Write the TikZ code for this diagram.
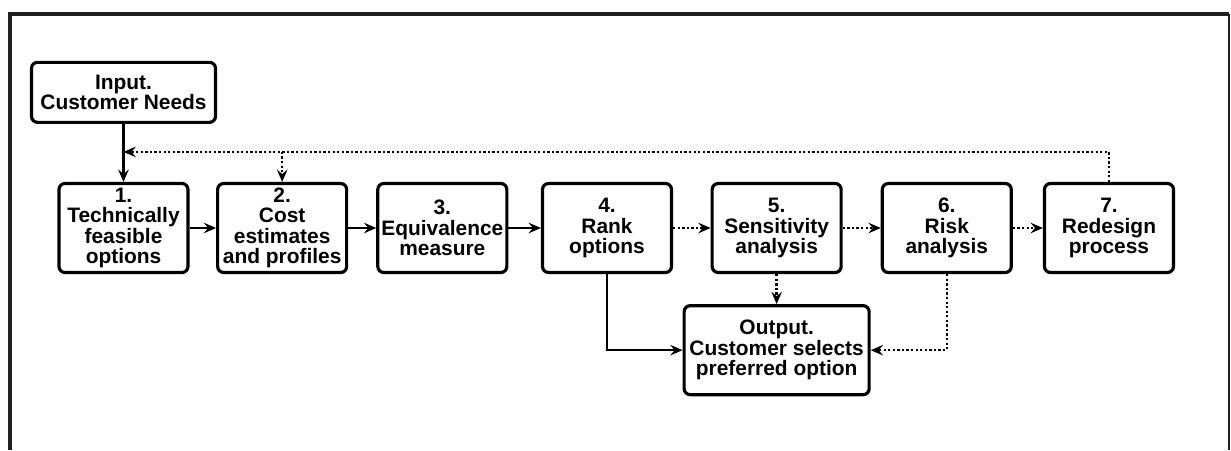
\documentclass[tikz,border=0pt]{standalone}
\usepackage{fontspec}
\setmainfont{Liberation Sans}
\usepackage{tikz}
\usetikzlibrary{arrows.meta,positioning,calc}
\definecolor{frameGray}{HTML}{231F20}

\begin{document}
\begin{tikzpicture}[
  block/.style={rounded corners=1.2mm,draw=black,line width=1.8pt,
    minimum height=1.78cm,minimum width=2.58cm,align=center,inner sep=1pt,
    font=\fontsize{11.9}{11.6}\selectfont\bfseries},
  wideblock/.style={block,minimum width=3.7cm},
  arrow/.style={-{Stealth[length=7pt,width=6pt,inset=2.5pt]},line width=1.4pt},
  dotarrow/.style={arrow,dash pattern=on 1.3pt off 1.3pt}
]
\useasboundingbox (0,0) rectangle (24.62,-9);
% frame, open at the bottom
\draw[frameGray,line width=2.3pt] (0.2,-9) -- (0.2,-0.28) -- (24.58,-0.28);
\draw[frameGray,line width=1.4pt] (24.58,-0.28) -- (24.58,-9);

\node[block] (b1) at (2.47,-4.56) {1.\\Technically\\feasible\\options};
\node[block,right=0.53cm of b1] (b2) {2.\\Cost\\estimates\\and profiles};
\node[block,right=0.56cm of b2] (b3) {3.\\Equivalence\\measure};
\node[block,right=0.65cm of b3] (b4) {4.\\Rank\\options};
\node[block,right=0.75cm of b4] (b5) {5.\\Sensitivity\\analysis};
\node[block,right=0.76cm of b5] (b6) {6.\\Risk\\analysis};
\node[block,right=0.6cm of b6] (b7) {7.\\Redesign\\process};
\node[block,minimum height=1.2cm,minimum width=3.68cm,above=1.16cm of b1] (input) {Input.\\Customer Needs};
\node[wideblock,below=0.6cm of b5] (output) {Output.\\Customer selects\\preferred option};

\draw[arrow] (input)--(b1);
\draw[arrow] (b1)--(b2);
\draw[arrow] (b2)--(b3);
\draw[arrow] (b3)--(b4);
\draw[dotarrow] (b4)--(b5);
\draw[dotarrow] (b5)--(b6);
\draw[dotarrow] (b6)--(b7);
\draw[arrow] (b4.south) |- (output.west);
\draw[dotarrow] (b5.south)--(output.north);
\draw[dotarrow] (b6.south) |- (output.east);

% redesign loop back to the start
\coordinate[above=0.6cm of b7.north] (loop);
\draw[dotarrow] (b7.north)--(loop)--(loop -| input.south);
\draw[dotarrow] (loop -| b2.north)--(b2.north);
\end{tikzpicture}
\end{document}
